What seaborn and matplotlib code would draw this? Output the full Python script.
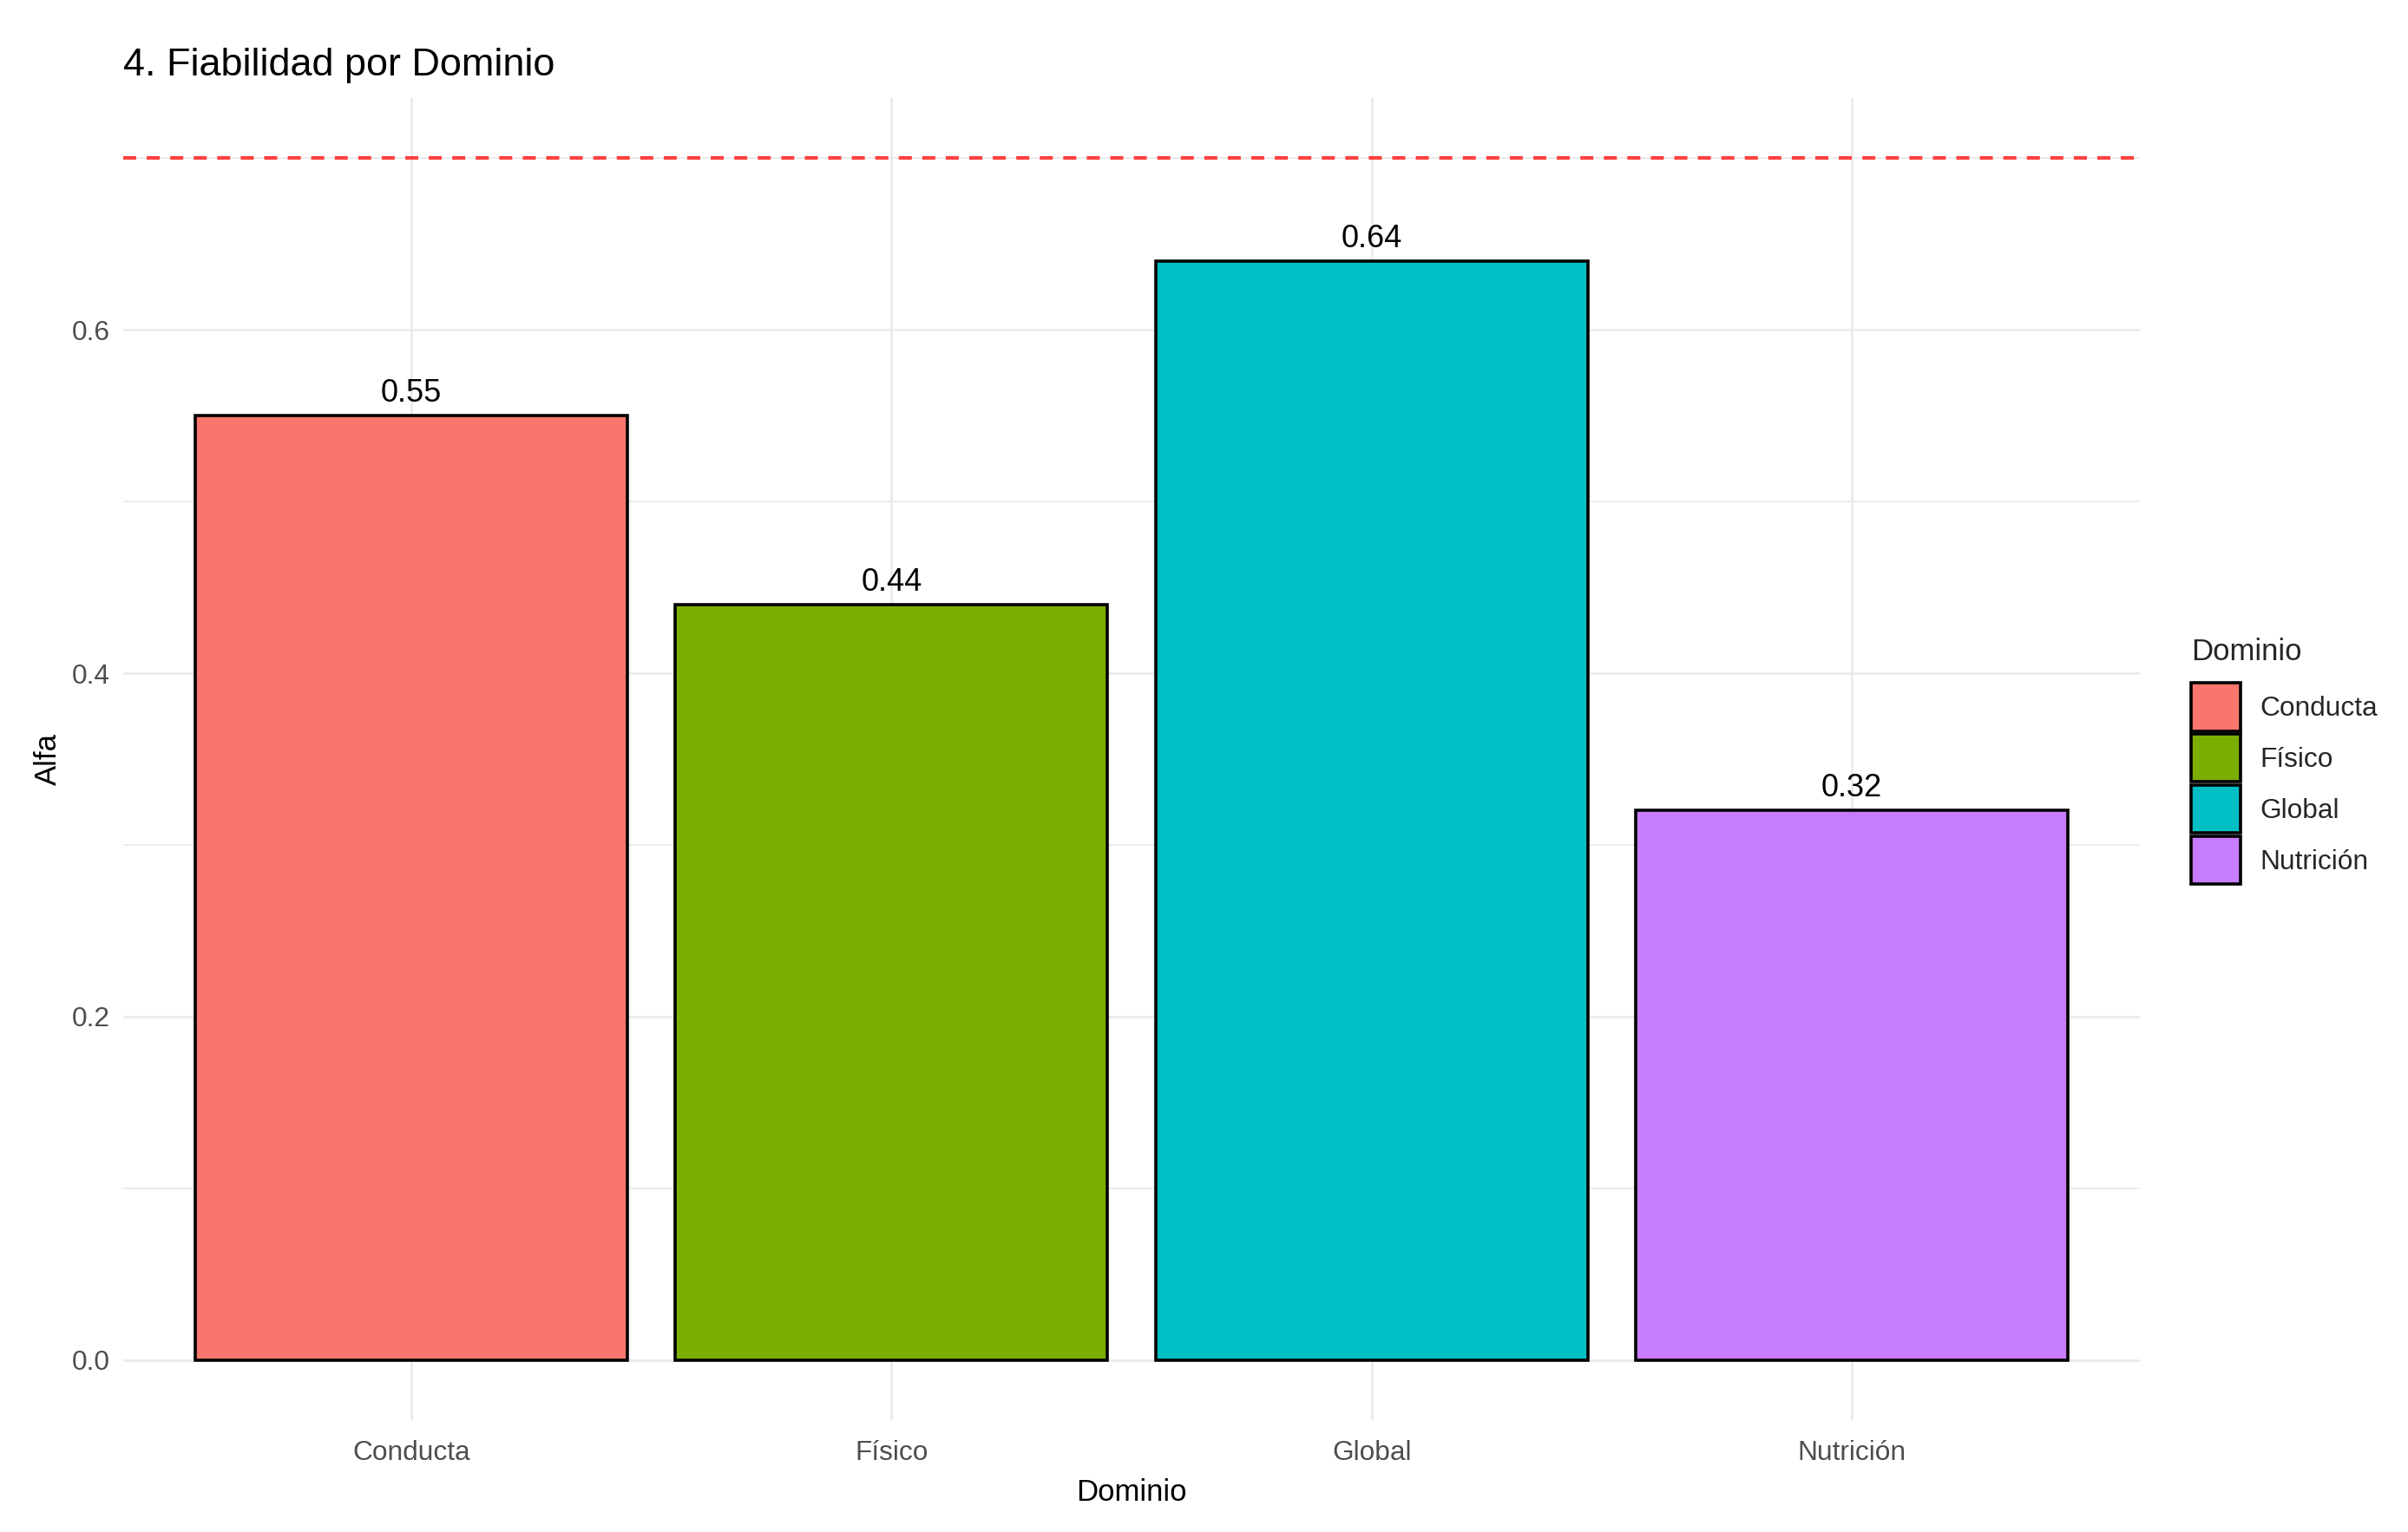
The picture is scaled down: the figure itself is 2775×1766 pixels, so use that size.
import pandas as pd
import matplotlib
matplotlib.use('Agg')
import matplotlib.pyplot as plt
from matplotlib.patches import Patch
from matplotlib.ticker import MultipleLocator
import seaborn as sns

dominios = ['Conducta', 'Físico', 'Global', 'Nutrición']
alfa = [0.55, 0.44, 0.64, 0.32]
colores = ['#F8766D', '#7CAE00', '#00BFC4', '#C77CFF']
umbral = 0.7

df = pd.DataFrame({'Dominio': dominios, 'Alfa': alfa})

sns.set_theme(style='white')
plt.rcParams['font.family'] = ['Liberation Sans', 'DejaVu Sans']

fig = plt.figure(figsize=(13.875, 8.83), dpi=200)
ax = fig.add_axes([142 / 2775, 1 - 1637 / 1766, (2466 - 142) / 2775, (1637 - 113) / 1766])

sns.barplot(data=df, x='Dominio', y='Alfa', hue='Dominio', palette=colores, saturation=1,
            edgecolor='black', linewidth=1.3, width=0.9, legend=False, ax=ax)

for c in ax.containers:
    ax.bar_label(c, fmt='%.2f', padding=3, fontsize=13, color='black')

# linea de referencia alfa = 0.7
ax.axhline(umbral, color='#FF4040', linestyle=(0, (3.6, 2.9)), linewidth=1.5, zorder=3)

ax.set_xlim(-0.6, 3.6)
ax.set_ylim(-0.035, 0.735)
ax.yaxis.set_major_locator(MultipleLocator(0.2))
ax.yaxis.set_minor_locator(MultipleLocator(0.1))
ax.set_axisbelow(True)
ax.grid(False)
ax.yaxis.grid(True, which='major', color='#EBEBEB', linewidth=1.0)
ax.yaxis.grid(True, which='minor', color='#EBEBEB', linewidth=0.7)
ax.xaxis.grid(True, which='major', color='#EBEBEB', linewidth=1.0)
for s in ax.spines.values():
    s.set_visible(False)
ax.tick_params(axis='both', which='both', length=0, labelsize=11.4, labelcolor='#4D4D4D')
ax.tick_params(axis='y', pad=5.4)
ax.tick_params(axis='x', pad=8.3)

ax.set_xlabel('Dominio', fontsize=12.5, color='black', labelpad=5.2)
ax.set_ylabel('Alfa', fontsize=12.5, color='black', labelpad=4)
ax.set_title('4. Fiabilidad por Dominio', loc='left', fontsize=16.2, color='black', pad=9.5)

handles = [Patch(facecolor=col, edgecolor='black', linewidth=1.3) for col in colores]
leg = fig.legend(handles, dominios, title='Dominio', loc='upper left',
                 bbox_to_anchor=(2525 / 2775, 1 - 735 / 1766), frameon=False,
                 fontsize=11.4, title_fontsize=12.5, handlelength=1.8, handleheight=2.3,
                 labelspacing=0.12, handletextpad=0.72, borderpad=0, borderaxespad=0,
                 alignment='left')
leg._legend_box.sep = 7.0

fig.savefig('out.png', dpi=200)
